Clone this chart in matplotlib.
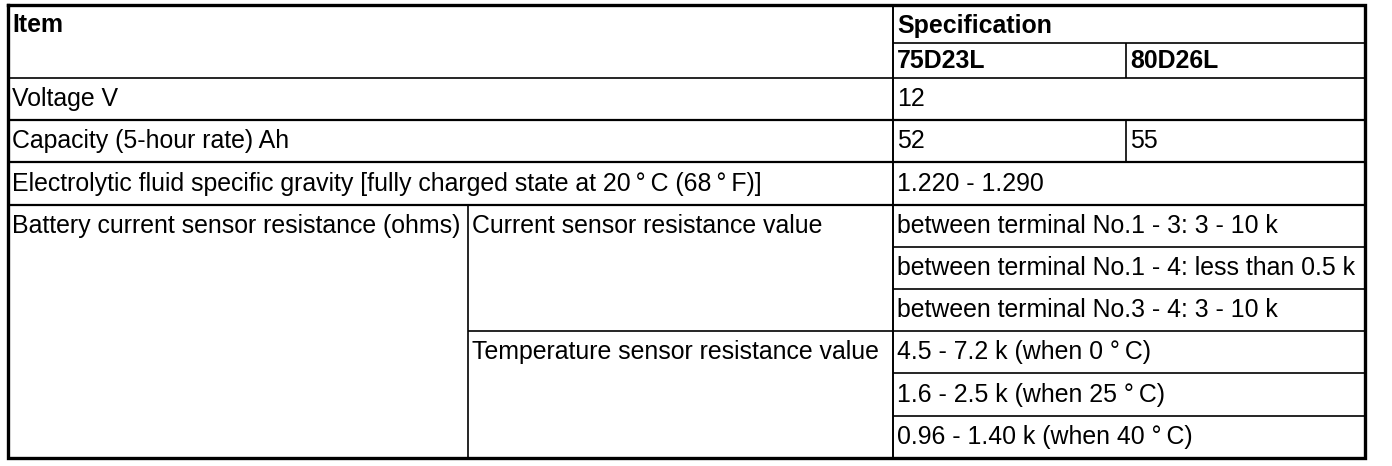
import matplotlib.pyplot as plt

# Conteúdo da tabela
header_item = "Item"
header_spec = "Specification"
models = ["75D23L", "80D26L"]

items = [
    "Voltage V",
    "Capacity (5-hour rate) Ah",
    "Electrolytic fluid specific gravity [fully charged state at 20\u2009°\u2009C (68\u2009°\u2009F)]",
]
item_values = [
    ["12"],
    ["52", "55"],
    ["1.220 - 1.290"],
]

sensor_item = "Battery current sensor resistance (ohms)"
sensor_groups = ["Current sensor resistance value", "Temperature sensor resistance value"]
sensor_values = [
    ["between terminal No.1 - 3: 3 - 10 k",
     "between terminal No.1 - 4: less than 0.5 k",
     "between terminal No.3 - 4: 3 - 10 k"],
    ["4.5 - 7.2 k (when 0 °\u2009C)",
     "1.6 - 2.5 k (when 25 °\u2009C)",
     "0.96 - 1.40 k (when 40 °\u2009C)"],
]

# Geometria (pixels)
W, H = 1392, 466
x_left, x_sub, x_spec, x_mid, x_right = 8, 468, 893, 1126, 1365
y_top, y_hdr, y_body = 5, 43, 78
row_h = 42.2
y_bottom = y_body + row_h * 9

fig = plt.figure(figsize=(W / 100, H / 100), dpi=100)
ax = fig.add_axes([0, 0, 1, 1])
ax.set_xlim(0, W)
ax.set_ylim(H, 0)
ax.axis("off")

plt.rcParams["font.family"] = ["Liberation Sans", "DejaVu Sans"]
fs = 17.9
thin = 1.2
pad = 4
base_off = 14  # distância da linha inferior até a linha de base


def txt(x, y_row_bottom, s, bold=False, off=base_off):
    ax.text(x + pad, y_row_bottom - off, s, fontsize=fs, va="baseline",
            ha="left", fontweight="bold" if bold else "normal", color="black")


# Cabeçalho
txt(x_left, y_hdr, header_item, bold=True, off=10.5)
txt(x_spec, y_hdr, header_spec, bold=True, off=10.5)
txt(x_spec, y_body, models[0], bold=True, off=10.5)
txt(x_mid, y_body, models[1], bold=True, off=10.5)
ax.hlines(y_hdr, x_spec, x_right, color="black", lw=thin)
ax.vlines(x_mid, y_hdr, y_body, color="black", lw=thin)
ax.hlines(y_body, x_left, x_right, color="black", lw=thin)

# Linhas simples
for i, (name, vals) in enumerate(zip(items, item_values)):
    yb = y_body + row_h * (i + 1)
    txt(x_left, yb, name)
    txt(x_spec, yb, vals[0])
    if len(vals) > 1:
        txt(x_mid, yb, vals[1])
        ax.vlines(x_mid, yb - row_h, yb, color="black", lw=thin)
    ax.hlines(yb, x_left, x_right, color="black", lw=1.6)

# Sensor da bateria
y0 = y_body + row_h * len(items)
txt(x_left, y0 + row_h, sensor_item)
ax.vlines(x_sub, y0, y_bottom, color="black", lw=thin)
k = 0
for g, (group, vals) in enumerate(zip(sensor_groups, sensor_values)):
    yg = y0 + row_h * k
    txt(x_sub, yg + row_h, group)
    for v in vals:
        yb = y0 + row_h * (k + 1)
        txt(x_spec, yb, v)
        if k < 5:
            if v == vals[-1]:
                ax.hlines(yb, x_sub, x_right, color="black", lw=thin)
            else:
                ax.hlines(yb, x_spec, x_right, color="black", lw=thin)
        k += 1

ax.vlines(x_spec, y_top, y_bottom, color="black", lw=1.4)

# Borda externa
ax.plot([x_left, x_right, x_right, x_left, x_left],
        [y_top, y_top, y_bottom, y_bottom, y_top], color="black", lw=2.4,
        solid_joinstyle="miter")

fig.savefig("out.png", dpi=100)
